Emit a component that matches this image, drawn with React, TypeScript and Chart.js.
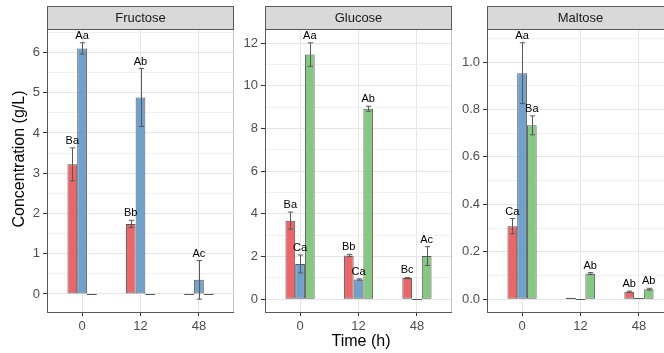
import React, { useEffect, useRef } from 'react';
import { Chart, registerables } from 'chart.js';

Chart.register(...registerables);

// ---------- data ----------
const timeLabels = ['0', '12', '48'];
const seriesNames = ['Series 1', 'Series 2', 'Series 3'];
const seriesColors = ['#EC6568', '#6FA1CC', '#84C882'];

const fructoseS1 = [3.22, 1.74, 0];
const fructoseS1Sd = [0.41, 0.09, 0];
const fructoseS2 = [6.1, 4.88, 0.35];
const fructoseS2Sd = [0.14, 0.72, 0.48];
const fructoseS3 = [0, 0, 0];
const fructoseS3Sd = [0, 0, 0];
const fructoseLetters1 = ['Ba', 'Bb', ''];
const fructoseLetters2 = ['Aa', 'Ab', 'Ac'];
const fructoseLetters3 = ['', '', ''];
const fructoseTicks = [0, 1, 2, 3, 4, 5, 6];

const glucoseS1 = [3.68, 2.05, 0.99];
const glucoseS1Sd = [0.4, 0.05, 0.03];
const glucoseS2 = [1.65, 0.92, 0];
const glucoseS2Sd = [0.42, 0.03, 0];
const glucoseS3 = [11.46, 8.92, 2.02];
const glucoseS3Sd = [0.55, 0.12, 0.44];
const glucoseLetters1 = ['Ba', 'Bb', 'Bc'];
const glucoseLetters2 = ['Ca', 'Ca', ''];
const glucoseLetters3 = ['Aa', 'Ab', 'Ac'];
const glucoseTicks = [0, 2, 4, 6, 8, 10, 12];

const maltoseS1 = [0.308, 0.006, 0.031];
const maltoseS1Sd = [0.032, 0, 0.003];
const maltoseS2 = [0.953, 0, 0.003];
const maltoseS2Sd = [0.128, 0, 0];
const maltoseS3 = [0.733, 0.108, 0.042];
const maltoseS3Sd = [0.04, 0.004, 0.004];
const maltoseLetters1 = ['Ca', '', 'Ab'];
const maltoseLetters2 = ['Aa', '', ''];
const maltoseLetters3 = ['Ba', 'Ab', 'Ab'];
const maltoseTicks = [0, 0.2, 0.4, 0.6, 0.8, 1.0];

const yTitle = 'Concentration (g/L)';
const xTitle = 'Time (h)';

// ---------- styling ----------
const FONT = '"Liberation Sans", Arial, Helvetica, sans-serif';
const BORDER = '#595959';
const GRID_MAJOR = '#E6E6E6';
const GRID_MINOR = '#F1F1F1';
const TICK_TEXT = '#4D4D4D';

Chart.defaults.font.family = FONT;

type PanelDef = {
  title: string;
  means: number[][];
  sds: number[][];
  letters: string[][];
  ticks: number[];
  decimals: number;
};

const panels: PanelDef[] = [
  {
    title: 'Fructose',
    means: [fructoseS1, fructoseS2, fructoseS3],
    sds: [fructoseS1Sd, fructoseS2Sd, fructoseS3Sd],
    letters: [fructoseLetters1, fructoseLetters2, fructoseLetters3],
    ticks: fructoseTicks,
    decimals: 0,
  },
  {
    title: 'Glucose',
    means: [glucoseS1, glucoseS2, glucoseS3],
    sds: [glucoseS1Sd, glucoseS2Sd, glucoseS3Sd],
    letters: [glucoseLetters1, glucoseLetters2, glucoseLetters3],
    ticks: glucoseTicks,
    decimals: 0,
  },
  {
    title: 'Maltose',
    means: [maltoseS1, maltoseS2, maltoseS3],
    sds: [maltoseS1Sd, maltoseS2Sd, maltoseS3Sd],
    letters: [maltoseLetters1, maltoseLetters2, maltoseLetters3],
    ticks: maltoseTicks,
    decimals: 1,
  },
];

// layout of the three facets (canvas left, canvas width, y-axis width)
const layouts = [
  { left: 0, width: 234, yWidth: 47, yTitle: true, xTitle: false },
  { left: 234, width: 218, yWidth: 31, yTitle: false, xTitle: true },
  { left: 452, width: 222, yWidth: 35, yTitle: false, xTitle: false },
];

const STRIP_TOP = 6;
const PANEL_TOP = 30;
const X_AXIS_H = 41;
const CANVAS_H = 353;

function yRange(p: PanelDef) {
  let lo = 0;
  let hi = 0;
  p.means.forEach((m, s) =>
    m.forEach((v, i) => {
      lo = Math.min(lo, v - p.sds[s][i]);
      hi = Math.max(hi, v + p.sds[s][i]);
    })
  );
  const pad = (hi - lo) * 0.05;
  return { min: lo - pad, max: hi + pad };
}

function allTicks(p: PanelDef, min: number, max: number) {
  const t = p.ticks;
  const step = t[1] - t[0];
  const out: any[] = [];
  t.forEach((v) => out.push({ value: v, minor: false }));
  for (let k = -1; k < t.length; k++) {
    const mid = t[0] + step * k + step / 2;
    if (mid > min && mid < max) out.push({ value: mid, minor: true });
  }
  out.sort((a, b) => a.value - b.value);
  return out;
}

const decorPlugin = {
  id: 'decor',
  afterDatasetsDraw(chart: any, _args: any, opts: any) {
    const { ctx } = chart;
    const y = chart.scales.y;
    ctx.save();
    chart.data.datasets.forEach((ds: any, di: number) => {
      const meta = chart.getDatasetMeta(di);
      meta.data.forEach((bar: any, i: number) => {
        const v = ds.data[i].y;
        const sd = ds.sd[i];
        const p = bar.getProps(['x', 'y', 'base', 'width'], true);
        const half = p.width / 2;
        ctx.strokeStyle = BORDER;
        ctx.lineWidth = 1;
        if (Math.abs(p.base - p.y) < 1) {
          const yy = Math.round(y.getPixelForValue(v)) + 0.5;
          ctx.beginPath();
          ctx.moveTo(p.x - half, yy);
          ctx.lineTo(p.x + half, yy);
          ctx.stroke();
        }
        if (sd > 0) {
          const yTop = y.getPixelForValue(v + sd);
          const yBot = y.getPixelForValue(v - sd);
          const cap = half * 0.55;
          const xx = Math.round(p.x) + 0.5;
          ctx.beginPath();
          ctx.moveTo(xx, yTop);
          ctx.lineTo(xx, yBot);
          ctx.moveTo(xx - cap, yTop);
          ctx.lineTo(xx + cap, yTop);
          ctx.moveTo(xx - cap, yBot);
          ctx.lineTo(xx + cap, yBot);
          ctx.stroke();
        }
        const letter = ds.letters[i];
        if (letter) {
          ctx.fillStyle = '#000';
          ctx.font = `11px ${FONT}`;
          ctx.textAlign = 'center';
          ctx.textBaseline = 'middle';
          ctx.fillText(letter, p.x, y.getPixelForValue(v + sd) - 7);
        }
      });
    });
    ctx.restore();
  },
  afterDraw(chart: any, _args: any, opts: any) {
    const { ctx, chartArea } = chart;
    const { left, right, top, bottom } = chartArea;
    ctx.save();
    // light right border of the panel
    ctx.strokeStyle = '#C4C4C4';
    ctx.lineWidth = 1;
    ctx.beginPath();
    ctx.moveTo(right - 0.5, top);
    ctx.lineTo(right - 0.5, bottom);
    ctx.stroke();
    // facet strip
    ctx.fillStyle = '#D9D9D9';
    ctx.fillRect(left, STRIP_TOP, right - left, top - STRIP_TOP);
    ctx.strokeStyle = BORDER;
    ctx.lineWidth = 1;
    ctx.strokeRect(left + 0.5, STRIP_TOP + 0.5, right - left - 1, top - STRIP_TOP - 1);
    ctx.beginPath();
    ctx.moveTo(left, top - 0.5);
    ctx.lineTo(right, top - 0.5);
    ctx.stroke();
    ctx.fillStyle = '#1A1A1A';
    ctx.font = `13px ${FONT}`;
    ctx.textAlign = 'center';
    ctx.textBaseline = 'middle';
    ctx.fillText(opts.title, (left + right) / 2, (STRIP_TOP + top) / 2 + 0.5);
    // axis titles
    ctx.fillStyle = '#000';
    ctx.font = `16px ${FONT}`;
    if (opts.yTitle) {
      ctx.save();
      ctx.translate(19.5, (STRIP_TOP + bottom) / 2);
      ctx.rotate(-Math.PI / 2);
      ctx.fillText(opts.yTitle, 0, 0);
      ctx.restore();
    }
    if (opts.xTitle) {
      ctx.fillText(opts.xTitle, opts.xTitleX, 342);
    }
    ctx.restore();
  },
};

function Panel({ def, lay }: { def: PanelDef; lay: typeof layouts[number] }) {
  const ref = useRef<HTMLCanvasElement | null>(null);
  useEffect(() => {
    if (!ref.current) return;
    const { min, max } = yRange(def);
    const yTicks = allTicks(def, min, max);
    const chart = new Chart(ref.current, {
      type: 'bar',
      data: {
        datasets: def.means.map((m, s) => ({
          label: seriesNames[s],
          data: m.map((v, i) => ({ x: i, y: v })),
          sd: def.sds[s],
          letters: def.letters[s],
          backgroundColor: seriesColors[s],
          borderColor: BORDER,
          borderWidth: 1,
          borderSkipped: false,
          categoryPercentage: 0.5,
          barPercentage: 1,
        })) as any,
      },
      options: {
        responsive: false,
        animation: false,
        devicePixelRatio: 1,
        layout: { padding: { top: PANEL_TOP, left: 0, right: 0, bottom: 0 } },
        plugins: {
          legend: { display: false },
          tooltip: { enabled: false },
          decor: {
            title: def.title,
            yTitle: lay.yTitle ? yTitle : '',
            xTitle: lay.xTitle ? xTitle : '',
            xTitleX: 361 - lay.left,
          },
        } as any,
        scales: {
          x: {
            type: 'linear',
            bounds: 'data',
            offset: false,
            min: -0.6,
            max: timeLabels.length - 0.4,
            afterBuildTicks: (sc: any) => {
              sc.ticks = timeLabels.map((_, i) => ({ value: i }));
            },
            afterFit: (sc: any) => {
              sc.height = X_AXIS_H;
            },
            ticks: {
              autoSkip: false,
              maxRotation: 0,
              padding: 3,
              color: TICK_TEXT,
              font: { size: 13, family: FONT },
              callback: (v: any) => timeLabels[v] ?? '',
            },
            grid: {
              offset: false,
              color: GRID_MAJOR,
              lineWidth: 1,
              tickLength: 4,
              tickColor: '#333333',
            },
            border: { display: true, color: BORDER, width: 1 },
          },
          y: {
            type: 'linear',
            bounds: 'data',
            min,
            max,
            afterBuildTicks: (sc: any) => {
              sc.ticks = yTicks.map((t) => ({ ...t }));
            },
            afterFit: (sc: any) => {
              sc.width = lay.yWidth;
            },
            ticks: {
              autoSkip: false,
              padding: 3,
              color: TICK_TEXT,
              font: { size: 13, family: FONT },
              callback: (v: any, i: number, ts: any[]) =>
                ts[i] && ts[i].minor ? '' : Number(v).toFixed(def.decimals),
            },
            grid: {
              color: (c: any) => (c.tick && c.tick.minor ? GRID_MINOR : GRID_MAJOR),
              lineWidth: 1,
              tickLength: 4,
              tickColor: (c: any) => (c.tick && c.tick.minor ? 'rgba(0,0,0,0)' : '#333333'),
            },
            border: { display: true, color: BORDER, width: 1 },
          },
        },
      } as any,
      plugins: [decorPlugin as any],
    });
    return () => chart.destroy();
  }, [def, lay]);
  return (
    <canvas
      ref={ref}
      width={lay.width}
      height={CANVAS_H}
      style={{ position: 'absolute', left: lay.left, top: 0, width: lay.width, height: CANVAS_H }}
    />
  );
}

export default function App() {
  return (
    <div
      style={{
        position: 'fixed',
        left: 0,
        top: 0,
        width: 664,
        height: CANVAS_H,
        overflow: 'hidden',
        background: '#ffffff',
      }}
    >
      {panels.map((p, k) => (
        <Panel key={p.title} def={p} lay={layouts[k]} />
      ))}
    </div>
  );
}
